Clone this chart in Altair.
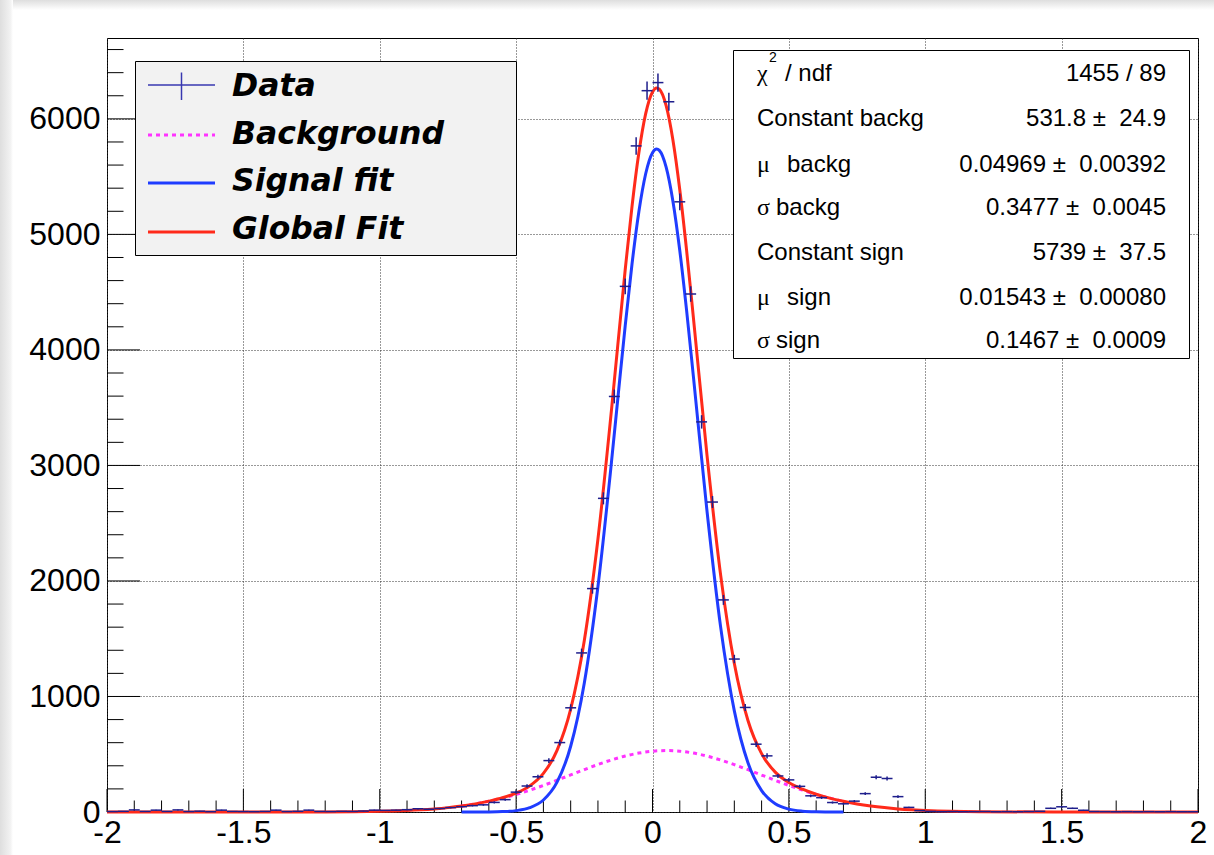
import altair as alt
import pandas as pd

# ---------------- data ----------------
bin_lo = -2.0
bin_w = 0.04
counts = [
    4, 6, 18, 5, 16, 5, 18, 4, 7, 3, 16, 5, 4, 3, 5, 16, 4, 6, 16, 5, 4, 6, 5, 8, 16,
    14, 16, 20, 28, 24, 30, 38, 46, 55, 62, 83, 107, 172, 225, 305, 445, 601, 902, 1377,
    1934, 2715, 3597, 4550, 5766, 6244,
    6314, 6148, 5282, 4484, 3377, 2683, 1836, 1324, 905, 587, 486, 312, 278, 222, 140,
    124, 82, 71, 94, 159, 301, 290, 133, 40, 12,
    5, 3, 4, 2, 3, 4, 2, 3, 2, 4, 6, 32, 45, 32, 15, 4, 3, 2, 3, 2, 3, 2, 3, 2, 2,
]
centers = [round(bin_lo + bin_w * (i + 0.5), 2) for i in range(len(counts))]

sig_x = [-0.70, -0.65, -0.60, -0.55, -0.50, -0.45, -0.40, -0.35, -0.30, -0.25, -0.20,
         -0.15, -0.125, -0.10, -0.075, -0.05, -0.025, 0.00, 0.015, 0.025, 0.05, 0.075,
         0.10, 0.125, 0.15, 0.20, 0.25, 0.30, 0.35, 0.40, 0.45, 0.50, 0.55, 0.60, 0.65, 0.70]
sig_y = [0, 0.1, 0.8, 3.4, 12, 37, 104, 258, 569, 1117, 1952,
         3039, 3629, 4211, 4746, 5196, 5525, 5707, 5739, 5727, 5582, 5285,
         4860, 4342, 3768, 2601, 1598, 875, 426, 185, 71, 24.5, 7.5, 2, 0.5, 0.1]

bkg_x = [-0.70, -0.65, -0.60, -0.55, -0.50, -0.45, -0.40, -0.35, -0.30, -0.25, -0.20,
         -0.15, -0.10, -0.05, 0.00, 0.05, 0.10, 0.15, 0.20, 0.25, 0.30, 0.35, 0.40,
         0.45, 0.50, 0.55, 0.60, 0.65, 0.70]
bkg_y = [52, 70, 93, 120, 152, 189, 230, 275, 321, 367, 411,
         451, 485, 510, 526, 532, 526, 510, 484, 450, 410, 366, 320,
         274, 230, 189, 152, 120, 92.5]

glob_x = [-2.0, -1.5, -1.2, -1.0, -0.95, -0.90, -0.85, -0.80, -0.75, -0.70, -0.65, -0.60,
          -0.55, -0.50, -0.45, -0.40, -0.35, -0.30, -0.25, -0.20, -0.15, -0.10, -0.075,
          -0.05, -0.025, 0.00, 0.015, 0.025, 0.05, 0.075, 0.10, 0.125, 0.15, 0.20, 0.25,
          0.30, 0.35, 0.40, 0.45, 0.50, 0.55, 0.60, 0.65, 0.70, 0.75, 0.80, 0.85, 0.90,
          0.95, 1.00, 1.2, 1.5, 2.0]
glob_y = [0, 0, 0.8, 5.6, 8.5, 12.8, 18.7, 26.9, 37.8, 52, 70, 94,
          123, 164, 226, 334, 533, 890, 1484, 2363, 3490, 4696, 5245,
          5706, 6045, 6233, 6268, 6257, 6114, 5815, 5386, 4862, 4278, 3085, 2048,
          1285, 792, 505, 345, 255, 197, 154, 120, 93, 70, 52, 38, 27,
          19, 13, 2.2, 0, 0]

x_major = [-2, -1.5, -1, -0.5, 0, 0.5, 1, 1.5, 2]
x_minor = [round(-2 + 0.1 * i, 1) for i in range(41) if i % 5 != 0]
y_major = [0, 1000, 2000, 3000, 4000, 5000, 6000]
y_minor = [v for v in range(200, 6700, 200) if v % 1000 != 0]

legend_names = ["Data", "Background", "Signal fit", "Global Fit"]
stat_left = ["Constant backg", "Constant sign"]
stat_values = ["1455 / 89",
               "531.8\u00a0\u00b1\u00a0\u00a024.9",
               "0.04969\u00a0\u00b1\u00a0\u00a00.00392",
               "0.3477\u00a0\u00b1\u00a0\u00a00.0045",
               "5739\u00a0\u00b1\u00a0\u00a037.5",
               "0.01543\u00a0\u00b1\u00a0\u00a00.00080",
               "0.1467\u00a0\u00b1\u00a0\u00a00.0009"]

# ---------------- styling ----------------
W, H = 1091, 774
FONT = "Liberation Sans"
LEGFONT = "DejaVu Sans"
DATA_C = "#1e1e8c"
RED = "#ff2a1a"
BLUE = "#1f3cff"
MAG = "#ff33ff"

XS = alt.Scale(domain=[-2, 2], nice=False, zero=False)
YS = alt.Scale(domain=[0, 6700], nice=False, zero=False)

xaxis = alt.Axis(values=x_major, title=None, grid=True, gridColor="#333333",
                 gridDash=[1, 2], gridWidth=1, ticks=False, tickSize=0, domain=False,
                 labelFont=FONT, labelFontSize=32, labelColor="black", labelPadding=5,
                 labelExpr="toString(datum.value)", labelOverlap=False,
                 labelFlush=False, labelBound=False)
yaxis = alt.Axis(values=y_major, title=None, grid=True, gridColor="#333333",
                 gridDash=[1, 2], gridWidth=1, ticks=False, tickSize=0, domain=False,
                 labelFont=FONT, labelFontSize=32, labelColor="black", labelPadding=7,
                 labelExpr="toString(datum.value)", labelOverlap=False,
                 labelFlush=False, labelBound=False)

X = lambda f: alt.X(f, scale=XS, axis=xaxis)
Y = lambda f: alt.Y(f, scale=YS, axis=yaxis)

one = alt.Data(values=[{"k": 0}])


def box(x1, x2, y1, y2, fill, stroke="black", sw=1):
    kw = dict(fill=fill, strokeWidth=sw)
    if stroke:
        kw["stroke"] = stroke
    return alt.Chart(one).mark_rect(**kw).encode(
        x=alt.value(x1), x2=alt.value(x2), y=alt.value(y1), y2=alt.value(y2))


def txt(text, x, y, size, align="left", font=FONT, style=None, weight=None):
    kw = dict(text=text, fontSize=size, align=align, baseline="alphabetic",
              font=font, color="black")
    if style:
        kw["fontStyle"] = style
    if weight:
        kw["fontWeight"] = weight
    return alt.Chart(one).mark_text(**kw).encode(x=alt.value(x), y=alt.value(y))


def seg(x1, x2, y1, y2, color, sw, dash=None):
    kw = dict(color=color, strokeWidth=sw)
    if dash:
        kw["strokeDash"] = dash
    return alt.Chart(one).mark_rule(**kw).encode(
        x=alt.value(x1), x2=alt.value(x2), y=alt.value(y1), y2=alt.value(y2))


layers = []

# page shadow (left and top edge of the screenshot)
grad_l = alt.Gradient(gradient="linear", x1=0, x2=1, y1=0, y2=0,
                      stops=[alt.GradientStop(color="#dedede", offset=0),
                             alt.GradientStop(color="#f2f2f2", offset=0.8),
                             alt.GradientStop(color="#ffffff", offset=1)])
grad_t = alt.Gradient(gradient="linear", x1=0, x2=0, y1=0, y2=1,
                      stops=[alt.GradientStop(color="#dedede", offset=0),
                             alt.GradientStop(color="#ffffff", offset=1)])
layers.append(alt.Chart(one).mark_rect(fill=grad_t).encode(
    x=alt.value(-107), x2=alt.value(1107), y=alt.value(-38), y2=alt.value(-28)))
layers.append(alt.Chart(one).mark_rect(fill=grad_l).encode(
    x=alt.value(-107), x2=alt.value(-94), y=alt.value(-38), y2=alt.value(817)))

# ticks (inside the frame, ROOT style)
layers.append(alt.Chart(pd.DataFrame({"x": x_major})).mark_rule(color="black", strokeWidth=1)
              .encode(x=X("x:Q"), y=alt.value(H), y2=alt.value(H - 23)))
layers.append(alt.Chart(pd.DataFrame({"x": x_minor})).mark_rule(color="black", strokeWidth=1)
              .encode(x=X("x:Q"), y=alt.value(H), y2=alt.value(H - 11.5)))
layers.append(alt.Chart(pd.DataFrame({"y": y_major})).mark_rule(color="black", strokeWidth=1)
              .encode(y=Y("y:Q"), x=alt.value(0), x2=alt.value(33)))
layers.append(alt.Chart(pd.DataFrame({"y": y_minor})).mark_rule(color="black", strokeWidth=1)
              .encode(y=Y("y:Q"), x=alt.value(0), x2=alt.value(16.5)))

# fit curves
layers.append(alt.Chart(pd.DataFrame({"x": bkg_x, "y": bkg_y}))
              .mark_line(color=MAG, strokeWidth=3, strokeDash=[4, 4], interpolate="monotone")
              .encode(x=X("x:Q"), y=Y("y:Q")))
layers.append(alt.Chart(pd.DataFrame({"x": sig_x, "y": sig_y}))
              .mark_line(color=BLUE, strokeWidth=3, interpolate="monotone")
              .encode(x=X("x:Q"), y=Y("y:Q")))
layers.append(alt.Chart(pd.DataFrame({"x": glob_x, "y": glob_y}))
              .mark_line(color=RED, strokeWidth=3, interpolate="monotone")
              .encode(x=X("x:Q"), y=Y("y:Q")))

# data with sqrt(N) error bars
hist = alt.Chart(pd.DataFrame({"x": centers, "y": counts})).transform_calculate(
    lo="datum.y - sqrt(datum.y)", hi="datum.y + sqrt(datum.y)",
    xl=f"datum.x - {bin_w / 2}", xh=f"datum.x + {bin_w / 2}")
layers.append(hist.mark_rule(color=DATA_C, strokeWidth=1.5)
              .encode(x=X("x:Q"), y=Y("lo:Q"), y2="hi:Q"))
layers.append(hist.mark_rule(color=DATA_C, strokeWidth=1.5)
              .encode(x=X("xl:Q"), x2="xh:Q", y=Y("y:Q")))

# legend box
layers.append(box(28.5, 409.5, 23.5, 217.5, "#f2f2f2"))
leg_base = [58, 106, 153, 201]
leg_line = [47, 97, 145, 194]
layers.append(seg(41, 108, leg_line[0], leg_line[0], "#3838b0", 1.5))
layers.append(alt.Chart(one).mark_rule(color="#3838b0", strokeWidth=1.5).encode(
    x=alt.value(74.5), y=alt.value(34.5), y2=alt.value(62)))
layers.append(seg(41, 108, leg_line[1], leg_line[1], MAG, 3, [4, 4]))
layers.append(seg(41, 108, leg_line[2], leg_line[2], BLUE, 3))
layers.append(seg(41, 108, leg_line[3], leg_line[3], RED, 3))
for name, yb in zip(legend_names, leg_base):
    layers.append(txt(name, 125, yb, 31.5, font=LEGFONT, style="italic", weight="bold"))

# statistics box
layers.append(box(626.5, 1082.5, 12.5, 320.5, "white"))
rows = [43, 88, 133.5, 177, 222, 267, 310]
SZ = 24
layers.append(txt("\u03c7", 650, rows[0], SZ, font="Liberation Serif"))
layers.append(txt("2", 662, 24, 14))
layers.append(txt("/ ndf", 678, rows[0], SZ))
layers.append(txt(stat_left[0], 650, rows[1], SZ))
layers.append(txt("\u03bc", 650, rows[2], SZ, font="Liberation Serif"))
layers.append(txt("backg", 680, rows[2], SZ))
layers.append(txt("\u03c3", 650, rows[3], SZ, font="Liberation Serif"))
layers.append(txt("backg", 669, rows[3], SZ))
layers.append(txt(stat_left[1], 650, rows[4], SZ))
layers.append(txt("\u03bc", 650, rows[5], SZ, font="Liberation Serif"))
layers.append(txt("sign", 680, rows[5], SZ))
layers.append(txt("\u03c3", 650, rows[6], SZ, font="Liberation Serif"))
layers.append(txt("sign", 669, rows[6], SZ))
for v, yb in zip(stat_values, rows):
    layers.append(txt(v, 1059, yb, SZ, align="right"))

chart = alt.layer(*layers).properties(
    width=W, height=H,
    autosize=alt.AutoSizeParams(type="none"),
    padding={"left": 107, "top": 38, "right": 16, "bottom": 43},
    background="white",
).configure_view(stroke="black", strokeWidth=1)

chart.save("out.html", embed_options={"renderer": "svg", "actions": False})
